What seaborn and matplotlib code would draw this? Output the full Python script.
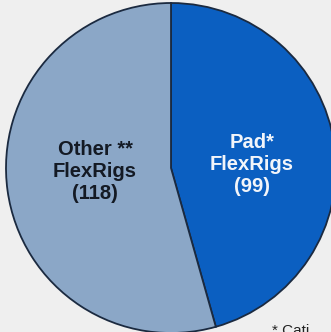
import numpy as np
import matplotlib
matplotlib.use("Agg")
import matplotlib.pyplot as plt
import seaborn as sns

# dados
categorias = ["Pad*\nFlexRigs", "Other **\nFlexRigs"]
contagens = [99, 118]
cores = ["#0b5fc1", "#8ba7c7"]
cores_texto = ["#f2f5fa", "#141a24"]

sns.set_theme(style="white")
plt.rcParams['font.family'] = ['Liberation Sans', 'DejaVu Sans']

fig = plt.figure(figsize=(3.31, 3.32), dpi=100)
fig.patch.set_facecolor("#efefef")
ax = fig.add_axes([0, 0, 1, 1])
ax.set_facecolor("#efefef")

# pizza começando no topo, sentido horário
fatias, _ = ax.pie(contagens, colors=cores, startangle=90, counterclock=False,
                   radius=1, wedgeprops=dict(edgecolor="#1b2a40", linewidth=1.3))

# rótulos dentro das fatias
posicoes = [(0.49, 0.02), (-0.46, -0.02)]
for cat, n, cor, (x, y) in zip(categorias, contagens, cores_texto, posicoes):
    ax.text(x, y, f"{cat}\n({n})", ha="center", va="center", color=cor,
            fontsize=14.5, fontweight="bold", linespacing=1.2)

# nota de rodapé cortada
ax.text(0.61, -0.99, "* Cati", ha="left", va="center", fontsize=11, color="#222222")

r = 165
cx, cy = 171, 168
ax.set_xlim(-cx / r, (331 - cx) / r)
ax.set_ylim(-(332 - cy) / r, cy / r)
ax.set_aspect("equal")
ax.axis("off")

fig.savefig("out.png", dpi=100, facecolor=fig.get_facecolor())
